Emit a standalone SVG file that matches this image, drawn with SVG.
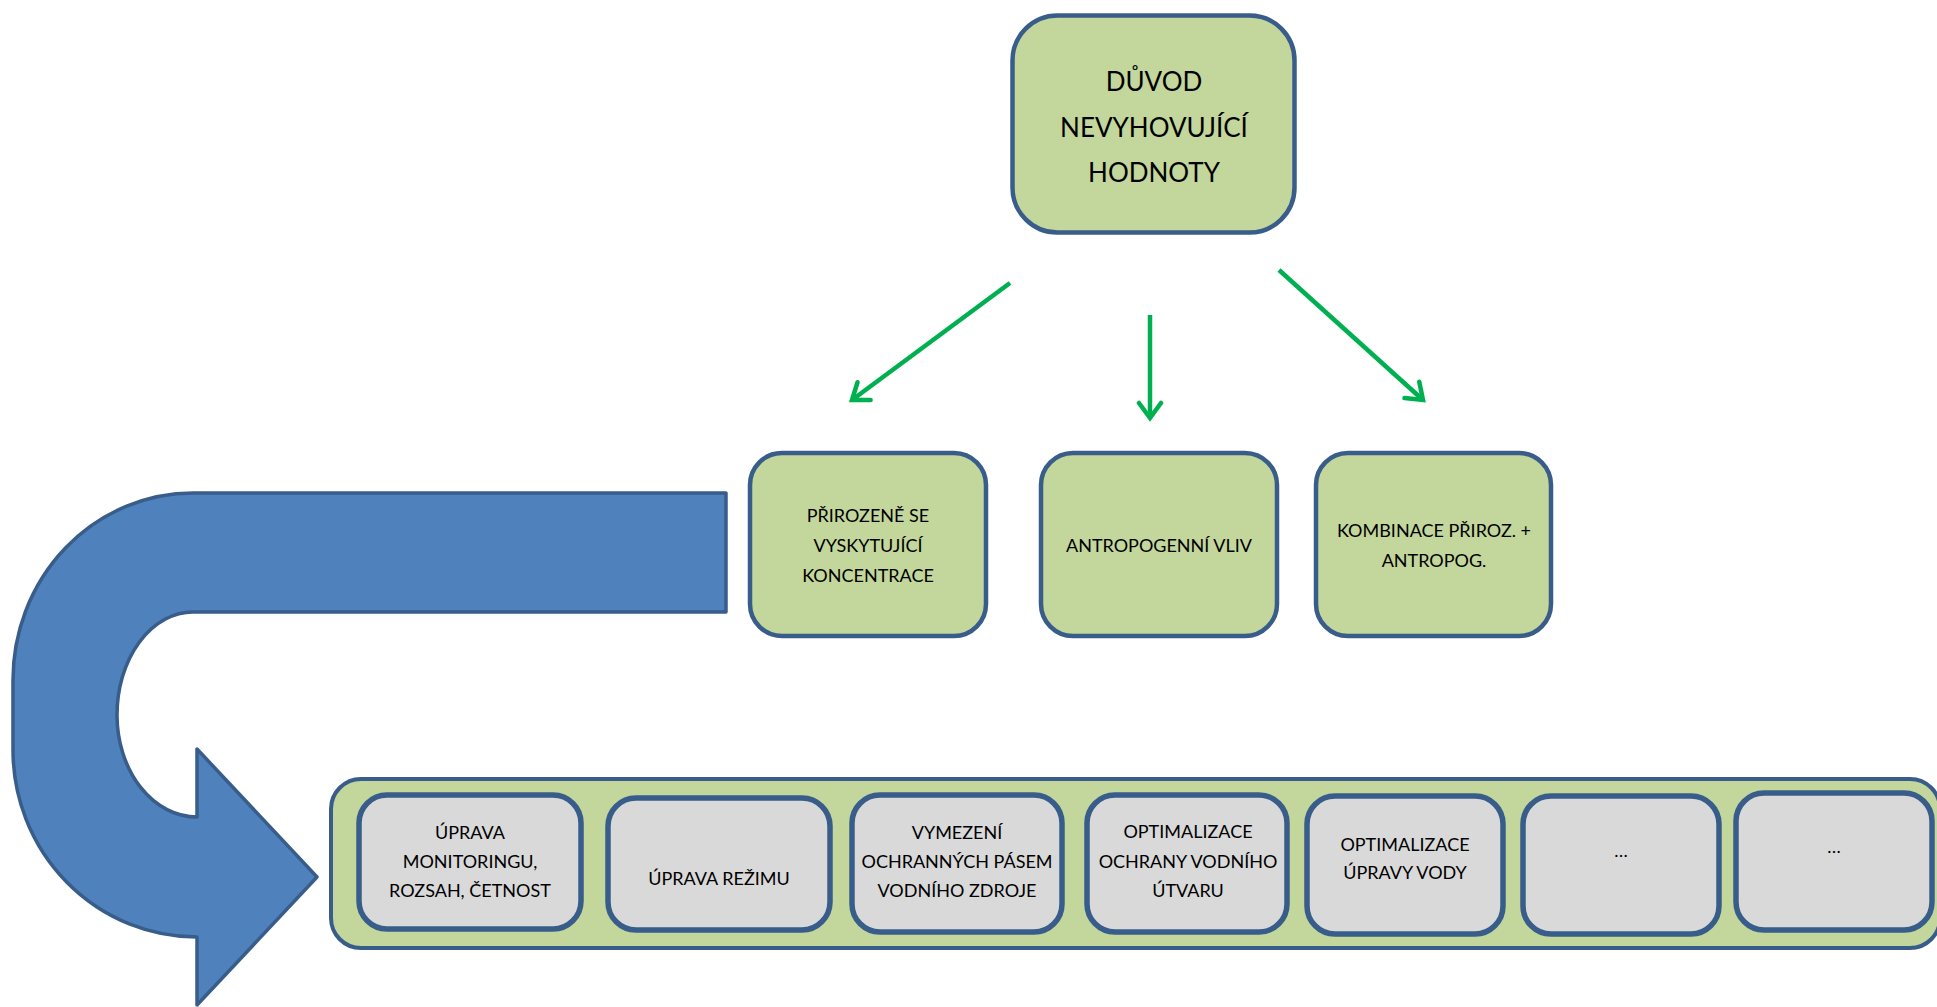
<svg xmlns="http://www.w3.org/2000/svg" width="1937" height="1007" viewBox="0 0 1937 1007">
<style>
.gbox{fill:#C3D69B;stroke:#385D8A;stroke-width:4.5}
.cont{fill:#C3D69B;stroke:#385D8A;stroke-width:4}
.grey{fill:#D9D9D9;stroke:#385D8A;stroke-width:5.5}
.conn{stroke:#00B050;stroke-width:4.5;fill:none}
text{font-family:Lato,"Liberation Sans",sans-serif;fill:#000;text-anchor:middle}
.big{font-size:26px}
.sm{font-size:18px}
</style>
<defs>
<marker id="ah" markerUnits="userSpaceOnUse" viewBox="-22 -14 26 28" refX="0" refY="0" markerWidth="26" markerHeight="28" orient="auto">
<path d="M-15,-11 L0,0 L-15,11" fill="none" stroke="#00B050" stroke-width="4.5" stroke-linecap="round" stroke-linejoin="miter"/>
</marker>
</defs>
<rect width="1937" height="1007" fill="#fff"/>

<g id="uturn">
<path d="M726,493 L193,493 A180,187 0 0 0 13,680 L13,750 A184,187 0 0 0 197,937 L197,1005 L317,877 L197,749 L197,817 A80,102 0 0 1 117,715 A76,103 0 0 1 193,612 L726,612 Z" fill="#4F81BD" stroke="#385D8A" stroke-width="3.5" stroke-linejoin="round"/>
</g>

<g id="connectors">
<line class="conn" x1="1010" y1="283" x2="852" y2="400" marker-end="url(#ah)"/>
<line class="conn" x1="1150" y1="315" x2="1150" y2="418" marker-end="url(#ah)"/>
<line class="conn" x1="1279" y1="270" x2="1423" y2="400" marker-end="url(#ah)"/>
</g>

<g id="duvod">
<rect class="gbox" x="1012.5" y="15.5" width="282" height="217" rx="45" stroke-width="5"/>
<text class="big" x="1154" y="91">DŮVOD</text>
<text class="big" x="1154" y="137">NEVYHOVUJÍCÍ</text>
<text class="big" x="1154" y="182">HODNOTY</text>
</g>

<g id="prirozene">
<rect class="gbox" x="750" y="453" width="236" height="183" rx="32"/>
<text class="sm" x="868" y="522">PŘIROZENĚ SE</text>
<text class="sm" x="868" y="552">VYSKYTUJÍCÍ</text>
<text class="sm" x="868" y="582">KONCENTRACE</text>
</g>

<g id="antropogenni">
<rect class="gbox" x="1041" y="453" width="236" height="183" rx="32"/>
<text class="sm" x="1159" y="552">ANTROPOGENNÍ VLIV</text>
</g>

<g id="kombinace">
<rect class="gbox" x="1316" y="453" width="235" height="183" rx="32"/>
<text class="sm" x="1434" y="537">KOMBINACE PŘIROZ. +</text>
<text class="sm" x="1434" y="567">ANTROPOG.</text>
</g>

<g id="opatreni">
<rect class="cont" x="331" y="779" width="1609" height="169" rx="30"/>
</g>

<g id="monitoring">
<rect class="grey" x="359" y="795" width="222" height="134" rx="28"/>
<text class="sm" x="470" y="839">ÚPRAVA</text>
<text class="sm" x="470" y="868">MONITORINGU,</text>
<text class="sm" x="470" y="897">ROZSAH, ČETNOST</text>
</g>

<g id="rezim">
<rect class="grey" x="608" y="798" width="222" height="132" rx="28"/>
<text class="sm" x="719" y="885">ÚPRAVA REŽIMU</text>
</g>

<g id="pasma">
<rect class="grey" x="852" y="795" width="210" height="137" rx="28"/>
<text class="sm" x="957" y="839">VYMEZENÍ</text>
<text class="sm" x="957" y="868">OCHRANNÝCH PÁSEM</text>
<text class="sm" x="957" y="897">VODNÍHO ZDROJE</text>
</g>

<g id="ochrana">
<rect class="grey" x="1087" y="795" width="200" height="137" rx="28"/>
<text class="sm" x="1188" y="838">OPTIMALIZACE</text>
<text class="sm" x="1188" y="868">OCHRANY VODNÍHO</text>
<text class="sm" x="1188" y="897">ÚTVARU</text>
</g>

<g id="uprava-vody">
<rect class="grey" x="1307" y="796" width="196" height="138" rx="28"/>
<text class="sm" x="1405" y="851">OPTIMALIZACE</text>
<text class="sm" x="1405" y="879">ÚPRAVY VODY</text>
</g>

<g id="dalsi1">
<rect class="grey" x="1523" y="796" width="196" height="138" rx="28"/>
<text class="sm" x="1621" y="857">…</text>
</g>

<g id="dalsi2">
<rect class="grey" x="1736" y="793" width="196" height="137" rx="28"/>
<text class="sm" x="1834" y="853">…</text>
</g>
</svg>
